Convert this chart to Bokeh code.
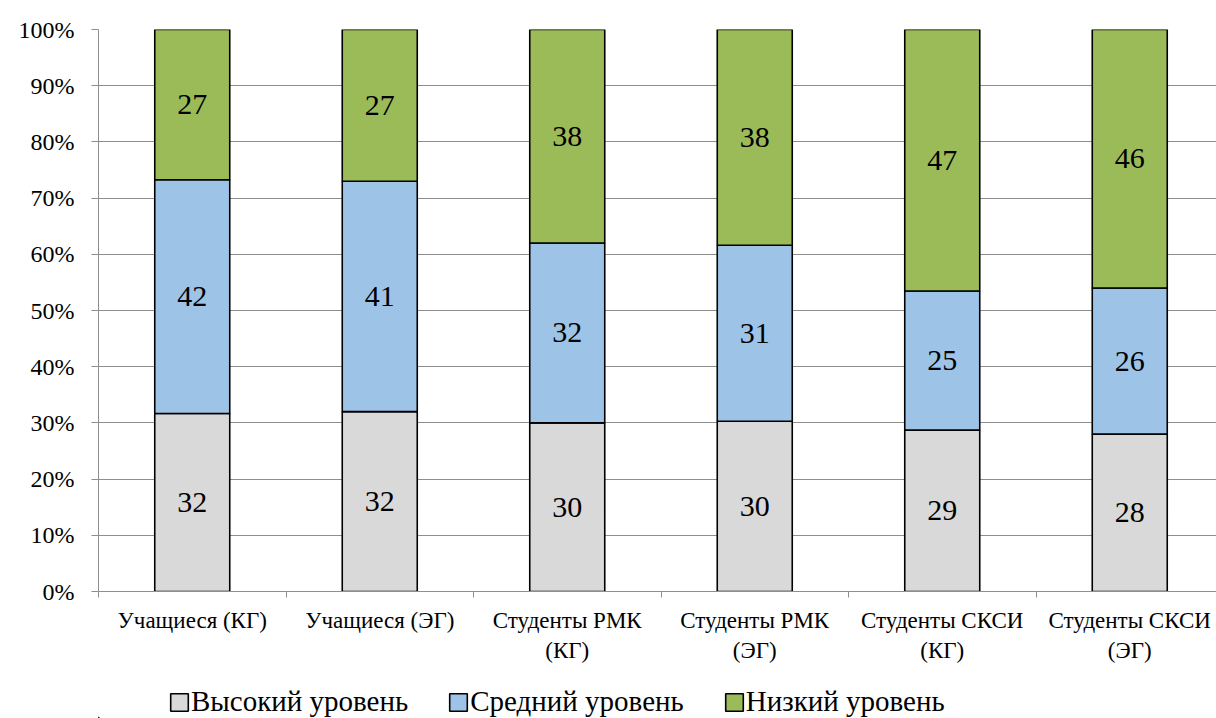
from bokeh.plotting import figure
from bokeh.layouts import column
from bokeh.models import (FixedTicker, Legend, LegendItem, ColumnDataSource, NumeralTickFormatter,
                          LinearAxis)
from bokeh.core.properties import value
from bokeh.embed import file_html
from bokeh.resources import INLINE

categories_line1 = ["Учащиеся (КГ)", "Учащиеся (ЭГ)", "Студенты РМК", "Студенты РМК",
                    "Студенты СКСИ", "Студенты СКСИ"]
categories_line2 = ["", "", "(КГ)", "(ЭГ)", "(КГ)", "(ЭГ)"]
high = [32, 32, 30, 30, 29, 28]
mid = [42, 41, 32, 31, 25, 26]
low = [27, 27, 38, 38, 47, 46]
series_names = ["Высокий уровень", "Средний уровень", "Низкий уровень"]
colors = ["#D9D9D9", "#9DC3E6", "#9BBB59"]
y_ticks = [0, 0.1, 0.2, 0.3, 0.4, 0.5, 0.6, 0.7, 0.8, 0.9, 1.0]

FONT = "'Liberation Serif', 'Times New Roman', serif"
GRID = "#8E8E8E"
n = len(categories_line1)
xs = [i + 0.5 for i in range(n)]
tot = [h + m + l for h, m, l in zip(high, mid, low)]
fh = [h / t for h, t in zip(high, tot)]
fm = [m / t for m, t in zip(mid, tot)]
fl = [l / t for l, t in zip(low, tot)]

src = ColumnDataSource(dict(x=xs, h=fh, m=fm, l=fl))

cat_w = 187.5
frame_w = 1118
H1 = 672
p = figure(width=1216, height=H1, x_range=(0, frame_w / cat_w), y_range=(0, 1),
           output_backend="svg", toolbar_location=None, x_axis_location=None,
           min_border_left=98, min_border_right=0, min_border_top=29,
           min_border_bottom=H1 - 29 - 562)
p.outline_line_color = None
p.background_fill_color = "white"
p.border_fill_color = "white"

rs = p.vbar_stack(["h", "m", "l"], x="x", width=0.4, source=src, color=colors,
                  line_color="black", line_width=1.6)

lab_y, lab_t = [], []
for i in range(n):
    lab_y += [fh[i] / 2, fh[i] + fm[i] / 2, fh[i] + fm[i] + fl[i] / 2]
    lab_t += [str(high[i]), str(mid[i]), str(low[i])]
lab_x = [x for x in xs for _ in range(3)]
p.text(x=lab_x, y=lab_y, text=lab_t, text_align="center", text_baseline="middle",
       text_font=value(FONT), text_font_size="30px", text_color="black")

# first line of category labels, axis line and boundary ticks
xa = LinearAxis(ticker=FixedTicker(ticks=xs, minor_ticks=list(range(n + 1))))
xa.major_label_overrides = {x: c for x, c in zip(xs, categories_line1)}
xa.major_tick_out = 0
xa.major_tick_in = 0
xa.minor_tick_out = 6
xa.minor_tick_in = 0
xa.minor_tick_line_color = GRID
xa.axis_line_color = GRID
xa.major_label_text_font = FONT
xa.major_label_text_font_size = "23px"
xa.major_label_text_color = "black"
xa.major_label_standoff = 10
p.add_layout(xa, "below")

# second line of category labels
xb = LinearAxis(ticker=FixedTicker(ticks=xs))
xb.major_label_overrides = {x: c for x, c in zip(xs, categories_line2)}
xb.major_tick_out = 0
xb.major_tick_in = 0
xb.minor_tick_line_color = None
xb.major_tick_line_color = None
xb.axis_line_color = None
xb.major_label_text_font = FONT
xb.major_label_text_font_size = "23px"
xb.major_label_text_color = "black"
xb.major_label_standoff = 2
p.add_layout(xb, "below")

ya = p.yaxis[0]
ya.ticker = FixedTicker(ticks=y_ticks)
ya.formatter = NumeralTickFormatter(format="0%")
ya.major_tick_out = 7
ya.major_tick_in = 0
ya.minor_tick_line_color = None
ya.major_tick_line_color = GRID
ya.axis_line_color = GRID
ya.major_label_text_font = FONT
ya.major_label_text_font_size = "24px"
ya.major_label_text_color = "black"
ya.major_label_standoff = 17

p.xgrid.grid_line_color = None
p.ygrid.grid_line_color = GRID
p.ygrid.grid_line_width = 1

# legend strip below the chart
H2 = 718 - H1
q = figure(width=1216, height=H2, x_range=(0, 1216), y_range=(0, H2),
           output_backend="svg", toolbar_location=None, x_axis_location=None, y_axis_location=None,
           min_border=0)
q.outline_line_color = None
q.xgrid.grid_line_color = None
q.ygrid.grid_line_color = None
q.background_fill_color = "white"
q.border_fill_color = "white"
keys = [q.vbar(x=[-500], top=[1], bottom=[0], width=1, fill_color=c, line_color="black",
               line_width=1.6) for c in colors]
items = [LegendItem(label=nm, renderers=[r]) for nm, r in zip(series_names, keys)]
leg = Legend(items=items, orientation="horizontal", location=(70, 0),
             label_text_font=FONT, label_text_font_size="29px", label_text_color="black",
             glyph_width=22, glyph_height=22, label_standoff=1, spacing=39,
             border_line_color=None, background_fill_alpha=0, padding=0, margin=0)
q.add_layout(leg, "center")

lay = column(p, q, spacing=0)
open("out.html", "w").write(file_html(lay, INLINE))
